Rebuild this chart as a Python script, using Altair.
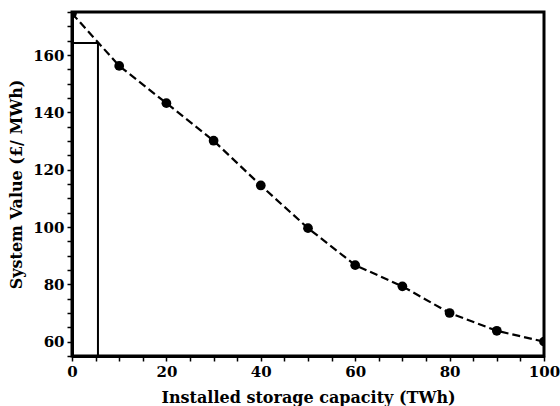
import altair as alt
import pandas as pd

capacity = [0, 10, 20, 30, 40, 50, 60, 70, 80, 90, 100]
system_value = [174.5, 156.2, 143.2, 130.1, 114.5, 99.6, 86.7, 79.3, 70.0, 63.8, 60.0]

box_x = [0, 5.5, 5.5]
box_y = [164.2, 164.2, 55]

tick_x = list(range(0, 101, 5))
tick_y = list(range(55, 176, 5))

df = pd.DataFrame({"x": capacity, "y": system_value})
box = pd.DataFrame({"x": box_x, "y": box_y, "o": [0, 1, 2]})

FONT = "DejaVu Serif"
xs = alt.Scale(domain=[0, 100], nice=False, zero=False)
ys = alt.Scale(domain=[55, 175], nice=False, zero=False)

major = "datum.value % 20 === 0"


def make_axis(vals, title, orient, tpad):
    return alt.Axis(
        values=vals, title=title, orient=orient,
        labelExpr=f"{major} ? datum.label : ''",
        labelFont=FONT, labelFontWeight="bold", labelFontSize=15, labelColor="black",
        titleFont=FONT, titleFontWeight="bold", titleFontSize=16, titleColor="black",
        titlePadding=tpad, tickSize=5,
        tickWidth=1.5, tickColor="black",
        domainColor="black", domainWidth=3, grid=False, labelPadding=3,
        labelFlush=False, labelOverlap=False,
    )


xaxis = make_axis(tick_x, "Installed storage capacity (TWh)", "bottom", 10)
yaxis = make_axis(tick_y, "System Value (£/ MWh)", "left", 8)

X = alt.X("x:Q", scale=xs, axis=xaxis)
Y = alt.Y("y:Q", scale=ys, axis=yaxis)

line = alt.Chart(df).mark_line(color="black", strokeWidth=2.2, strokeDash=[8, 4], clip=True).encode(x=X, y=Y)
pts = alt.Chart(df).mark_circle(color="black", size=95, opacity=1, clip=True).encode(x=X, y=Y)
rect = alt.Chart(box).mark_line(color="black", strokeWidth=2, clip=True).encode(x=X, y=Y, order="o:O")

chart = alt.layer(line, rect, pts).properties(
    width=472, height=344,
    autosize=alt.AutoSizeParams(type="none"),
    padding={"left": 72, "top": 12, "right": 16, "bottom": 50},
).configure_view(stroke="black", strokeWidth=3)

chart.save("out.html", embed_options={"renderer": "svg", "actions": False})
